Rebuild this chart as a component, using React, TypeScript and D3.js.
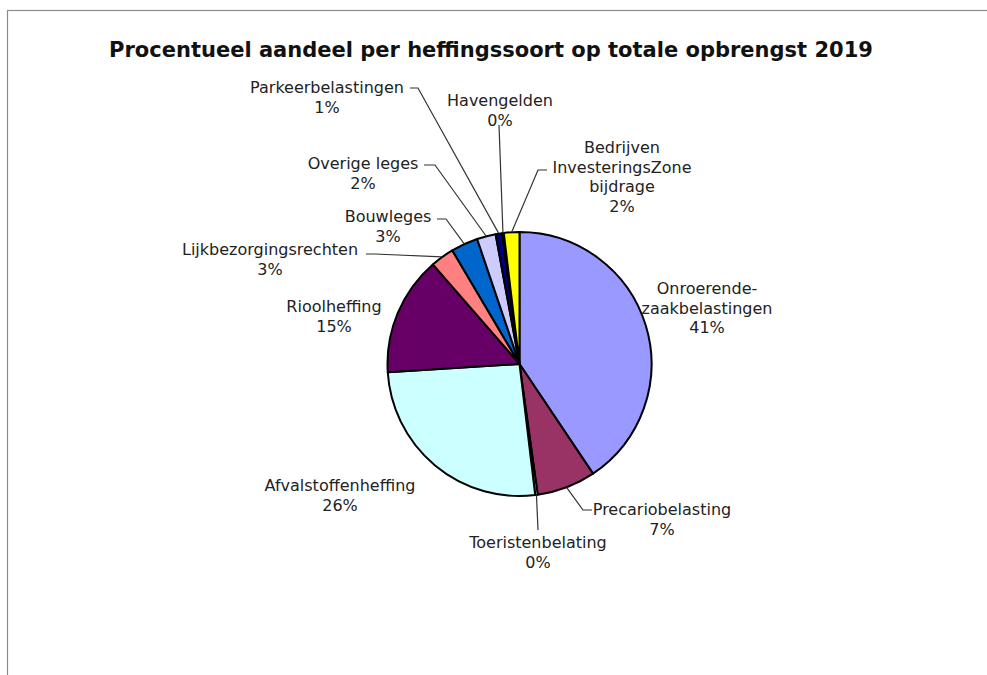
import { useEffect, useRef } from "react";
import * as d3 from "d3";

// share per levy type (percent of total 2019 revenue)
const categories = [
  "Onroerende-zaakbelastingen",
  "Precariobelasting",
  "Toeristenbelating",
  "Afvalstoffenheffing",
  "Rioolheffing",
  "Lijkbezorgingsrechten",
  "Bouwleges",
  "Overige leges",
  "Parkeerbelastingen",
  "Havengelden",
  "Bedrijven InvesteringsZone bijdrage",
];
const values = [40.6, 7.2, 0.3, 25.9, 14.6, 2.9, 3.3, 2.3, 0.8, 0.2, 1.9];
const colors = [
  "#9999FF", "#993366", "#FFFFCC", "#CCFFFF", "#660066", "#FF8080",
  "#0066CC", "#CCCCFF", "#000080", "#FF00FF", "#FFFF00",
];
// label text lines as shown in the chart
const labelLines = [
  ["Onroerende-", "zaakbelastingen"],
  ["Precariobelasting"],
  ["Toeristenbelating"],
  ["Afvalstoffenheffing"],
  ["Rioolheffing"],
  ["Lijkbezorgingsrechten"],
  ["Bouwleges"],
  ["Overige leges"],
  ["Parkeerbelastingen"],
  ["Havengelden"],
  ["Bedrijven", "InvesteringsZone", "bijdrage"],
];

// label layout: text centre x, first baseline y, leader elbow and end (null = none)
const labelPos: { x: number; y: number; elbow: [number, number] | null; end: [number, number] | null }[] = [
  { x: 707, y: 294, elbow: null, end: null },
  { x: 662, y: 515, elbow: [583, 510], end: [592, 510] },
  { x: 538, y: 548, elbow: [538, 530], end: null },
  { x: 340, y: 491, elbow: null, end: null },
  { x: 334, y: 312, elbow: null, end: null },
  { x: 270, y: 255, elbow: [375, 254], end: [366, 254] },
  { x: 388, y: 222, elbow: [446, 219], end: [437, 219] },
  { x: 363, y: 169, elbow: [435, 165], end: [424, 165] },
  { x: 327, y: 93, elbow: [418, 88], end: [410, 88] },
  { x: 500, y: 106, elbow: [499, 125], end: null },
  { x: 622, y: 153, elbow: [538, 170], end: [547, 170] },
];

export default function App() {
  const svgRef = useRef<SVGSVGElement>(null);

  useEffect(() => {
    const width = 987;
    const height = 675;
    const cx = 519.5;
    const cy = 364;
    const r = 132;

    const svg = d3.select(svgRef.current)
      .attr("width", width)
      .attr("height", height)
      .attr("viewBox", [0, 0, width, height].join(" "));
    svg.selectAll("*").remove();

    svg.append("rect")
      .attr("x", 7.5).attr("y", 10.5)
      .attr("width", 990).attr("height", 700)
      .attr("fill", "white")
      .attr("stroke", "#8c8c8c")
      .attr("stroke-width", 1.2);

    svg.append("text")
      .attr("x", 491).attr("y", 57)
      .attr("text-anchor", "middle")
      .attr("font-family", "DejaVu Sans")
      .attr("font-weight", "bold")
      .attr("font-size", 21)
      .attr("fill", "#111")
      .text("Procentueel aandeel per heffingssoort op totale opbrengst 2019");

    const pie = d3.pie<number>().sort(null).value(d => d);
    const arcs = pie(values);
    const arc = d3.arc<d3.PieArcDatum<number>>().innerRadius(0).outerRadius(r);
    const edge = d3.arc<d3.PieArcDatum<number>>().innerRadius(r).outerRadius(r);

    const g = svg.append("g").attr("transform", `translate(${cx},${cy})`);
    g.selectAll("path")
      .data(arcs)
      .enter()
      .append("path")
      .attr("d", arc)
      .attr("fill", (d, i) => colors[i])
      .attr("stroke", "black")
      .attr("stroke-width", 2)
      .attr("stroke-linejoin", "round");

    // leader lines
    arcs.forEach((a, i) => {
      const p = labelPos[i];
      if (!p.elbow) return;
      const [ex, ey] = edge.centroid(a);
      const pts: [number, number][] = [[cx + ex, cy + ey], p.elbow];
      if (p.end) pts.push(p.end);
      svg.append("path")
        .attr("d", d3.line()(pts))
        .attr("fill", "none")
        .attr("stroke", "#333")
        .attr("stroke-width", 1.2);
    });

    const fmt = d3.format(".0f");
    arcs.forEach((a, i) => {
      const p = labelPos[i];
      const lines = [...labelLines[i], fmt(values[i]) + "%"];
      const t = svg.append("text")
        .attr("text-anchor", "middle")
        .attr("font-family", "DejaVu Sans")
        .attr("font-size", 16)
        .attr("fill", "#222");
      lines.forEach((ln, k) => {
        t.append("tspan").attr("x", p.x).attr("y", p.y + k * 19.5).text(ln);
      });
    });
  }, []);

  return (
    <svg ref={svgRef} style={{ position: "absolute", left: 0, top: 0 }}></svg>
  );
}
